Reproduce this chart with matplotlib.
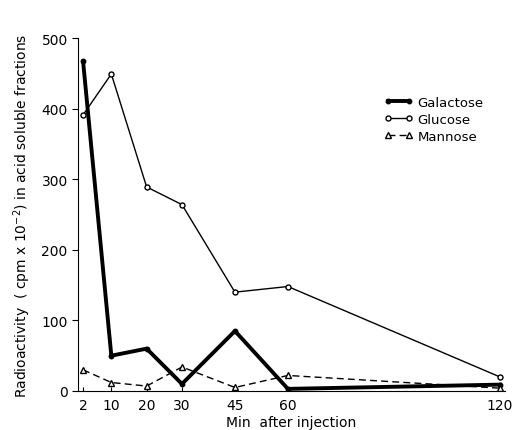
import matplotlib
matplotlib.use("Agg")
import matplotlib.pyplot as plt

# Values
minutes = [2, 10, 20, 30, 45, 60, 120]
galactose = [467, 50, 60, 10, 85, 3, 9]
glucose = [391, 449, 289, 264, 140, 148, 20]
mannose = [30, 12, 7, 34, 5, 22, 4]

xticks = [2, 10, 20, 30, 45, 60, 120]
yticks = [0, 100, 200, 300, 400, 500]

plt.rcParams['font.family'] = ['DejaVu Sans']

fig = plt.figure(figsize=(5.14, 4.31), dpi=100)
ax = fig.add_axes([0.152, 0.0905, 0.83, 0.819])

ax.plot(minutes, galactose, color="black", lw=2.8, marker="o", ms=3.2,
        mfc="black", mec="black", label="Galactose")
ax.plot(minutes, glucose, color="black", lw=1.0, marker="o", ms=3.6,
        mfc="white", mec="black", mew=1.0, label="Glucose")
ax.plot(minutes, mannose, color="black", lw=1.0, ls=(0, (5, 3)), marker="^",
        ms=4.5, mfc="white", mec="black", mew=1.0, label="Mannose")

ax.set_xlim(0.6, 121.4)
ax.set_ylim(0, 500)
ax.set_xticks(xticks)
ax.set_yticks(yticks)
ax.tick_params(axis="x", direction="in", length=3, labelsize=10, pad=5)
ax.tick_params(axis="y", direction="out", length=4, labelsize=10)
for s in ["top", "right"]:
    ax.spines[s].set_visible(False)

ax.set_xlabel("Min  after injection", fontsize=10, labelpad=2)
ax.set_ylabel(r"Radioactivity  ( cpm x 10$^{-2}$) in acid soluble fractions",
              fontsize=10, labelpad=6)

ax.legend(loc="upper left", bbox_to_anchor=(0.735, 0.79),
          bbox_transform=fig.transFigure, frameon=False, numpoints=2,
          fontsize=9.5, handlelength=2.2, handletextpad=0.3, labelspacing=0.3,
          borderpad=0)

fig.savefig("out.png", dpi=100)
